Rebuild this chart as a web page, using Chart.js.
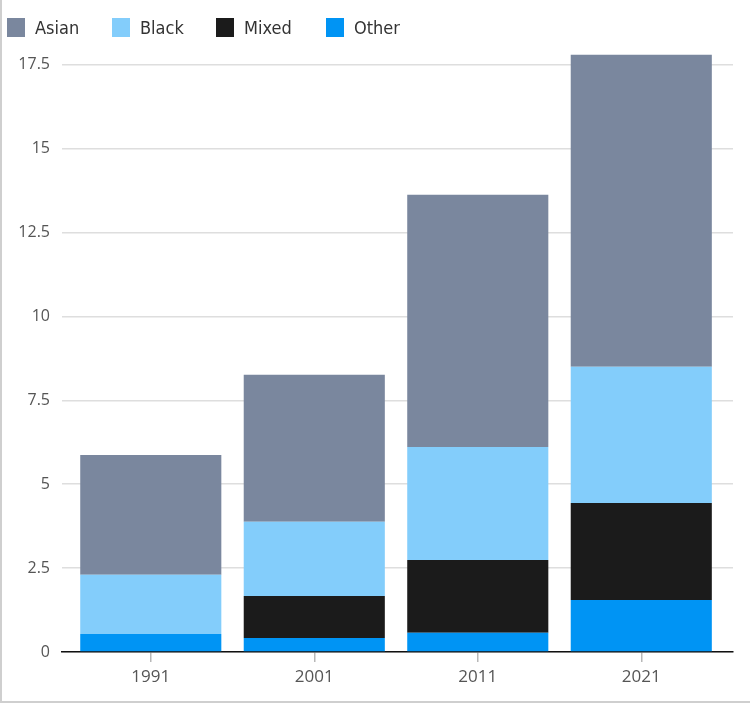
<!DOCTYPE html>
<html>
<head>
<meta charset="utf-8">
<script src="https://cdn.jsdelivr.net/npm/chart.js@4.4.1/dist/chart.umd.min.js"></script>
<style>
  body { margin: 0; background: #fff; }
  .wrap { position: relative; width: 750px; height: 703px; }
  .frame-left { position: absolute; left: 0; top: 0; width: 2px; height: 703px; background: #cfcfcf; }
  .frame-bottom { position: absolute; left: 0; top: 701px; width: 750px; height: 2px; background: #cfcfcf; }
  .legend { position: absolute; left: 0; top: 17px; height: 21px; width: 450px;
    font-family: 'Liberation Sans Narrow', 'DejaVu Sans Condensed', 'Liberation Sans', sans-serif;
    font-size: 18px; color: #333; }
  .legend .item { position: absolute; top: 0; display: flex; align-items: center; height: 21px; }
  .legend .box { width: 18px; height: 19px; margin-right: 10px; }
</style>
</head>
<body>
<div class="wrap">
  <canvas id="chart" width="750" height="703"></canvas>
  <div class="legend" id="legend"></div>
  <div class="frame-left"></div>
  <div class="frame-bottom"></div>
</div>
<script>
// Data (millions)
var years = ['1991', '2001', '2011', '2021'];
var asian = [3.57, 4.38, 7.52, 9.30];
var black = [1.76, 2.21, 3.37, 4.06];
var mixed = [0, 1.25, 2.17, 2.89];
var other = [0.54, 0.42, 0.57, 1.55];

var colors = {
    Asian: '#7a879e',
    Black: '#83cdfb',
    Mixed: '#1b1b1b',
    Other: '#0094f4'
};

function points(values) {
    return values.map(function(v, i) { return { x: i, y: v }; });
}

// bottom of the stack first
var series = [
    { label: 'Other', data: other },
    { label: 'Mixed', data: mixed },
    { label: 'Black', data: black },
    { label: 'Asian', data: asian }
];

var ctx = document.getElementById('chart');

var chart = new Chart(ctx, {
    type: 'bar',
    data: {
        datasets: series.map(function(s) {
            return {
                label: s.label,
                data: points(s.data),
                backgroundColor: colors[s.label],
                borderWidth: 0,
                barPercentage: 0.863,
                categoryPercentage: 1
            };
        })
    },
    options: {
        responsive: false,
        animation: false,
        layout: { padding: { top: 48, right: 17, left: 0, bottom: 0 } },
        plugins: {
            legend: { display: false },
            tooltip: { enabled: false }
        },
        scales: {
            x: {
                type: 'linear',
                stacked: true,
                offset: false,
                min: -0.543,
                max: 3.561,
                afterBuildTicks: function(scale) {
                    scale.ticks = years.map(function(_, i) { return { value: i }; });
                },
                afterFit: function(scale) { scale.height = 51; },
                ticks: {
                    padding: 5,
                    color: '#555',
                    font: { family: 'Open Sans', size: 17 },
                    callback: function(v) { return years[v]; }
                },
                grid: {
                    offset: false,
                    drawOnChartArea: false,
                    drawTicks: true,
                    tickLength: 10,
                    color: '#b8b8b8',
                    lineWidth: 1.5
                },
                border: { display: true, color: '#111', width: 1.5 }
            },
            y: {
                stacked: true,
                min: 0,
                max: 18,
                afterFit: function(scale) { scale.width = 62; },
                ticks: {
                    stepSize: 2.5,
                    includeBounds: false,
                    padding: 12,
                    color: '#555',
                    font: { family: 'Open Sans', size: 16 }
                },
                grid: {
                    color: '#dedede',
                    lineWidth: 1.5,
                    drawTicks: false
                },
                border: { display: false }
            }
        }
    }
});

// Legend
var legend = document.getElementById('legend');
var legendX = [7, 112, 216, 326];
['Asian', 'Black', 'Mixed', 'Other'].forEach(function(name, i) {
    var item = document.createElement('div');
    item.className = 'item';
    item.style.left = legendX[i] + 'px';
    var box = document.createElement('span');
    box.className = 'box';
    box.style.background = colors[name];
    var text = document.createElement('span');
    text.textContent = name;
    item.appendChild(box);
    item.appendChild(text);
    legend.appendChild(item);
});
</script>
</body>
</html>
